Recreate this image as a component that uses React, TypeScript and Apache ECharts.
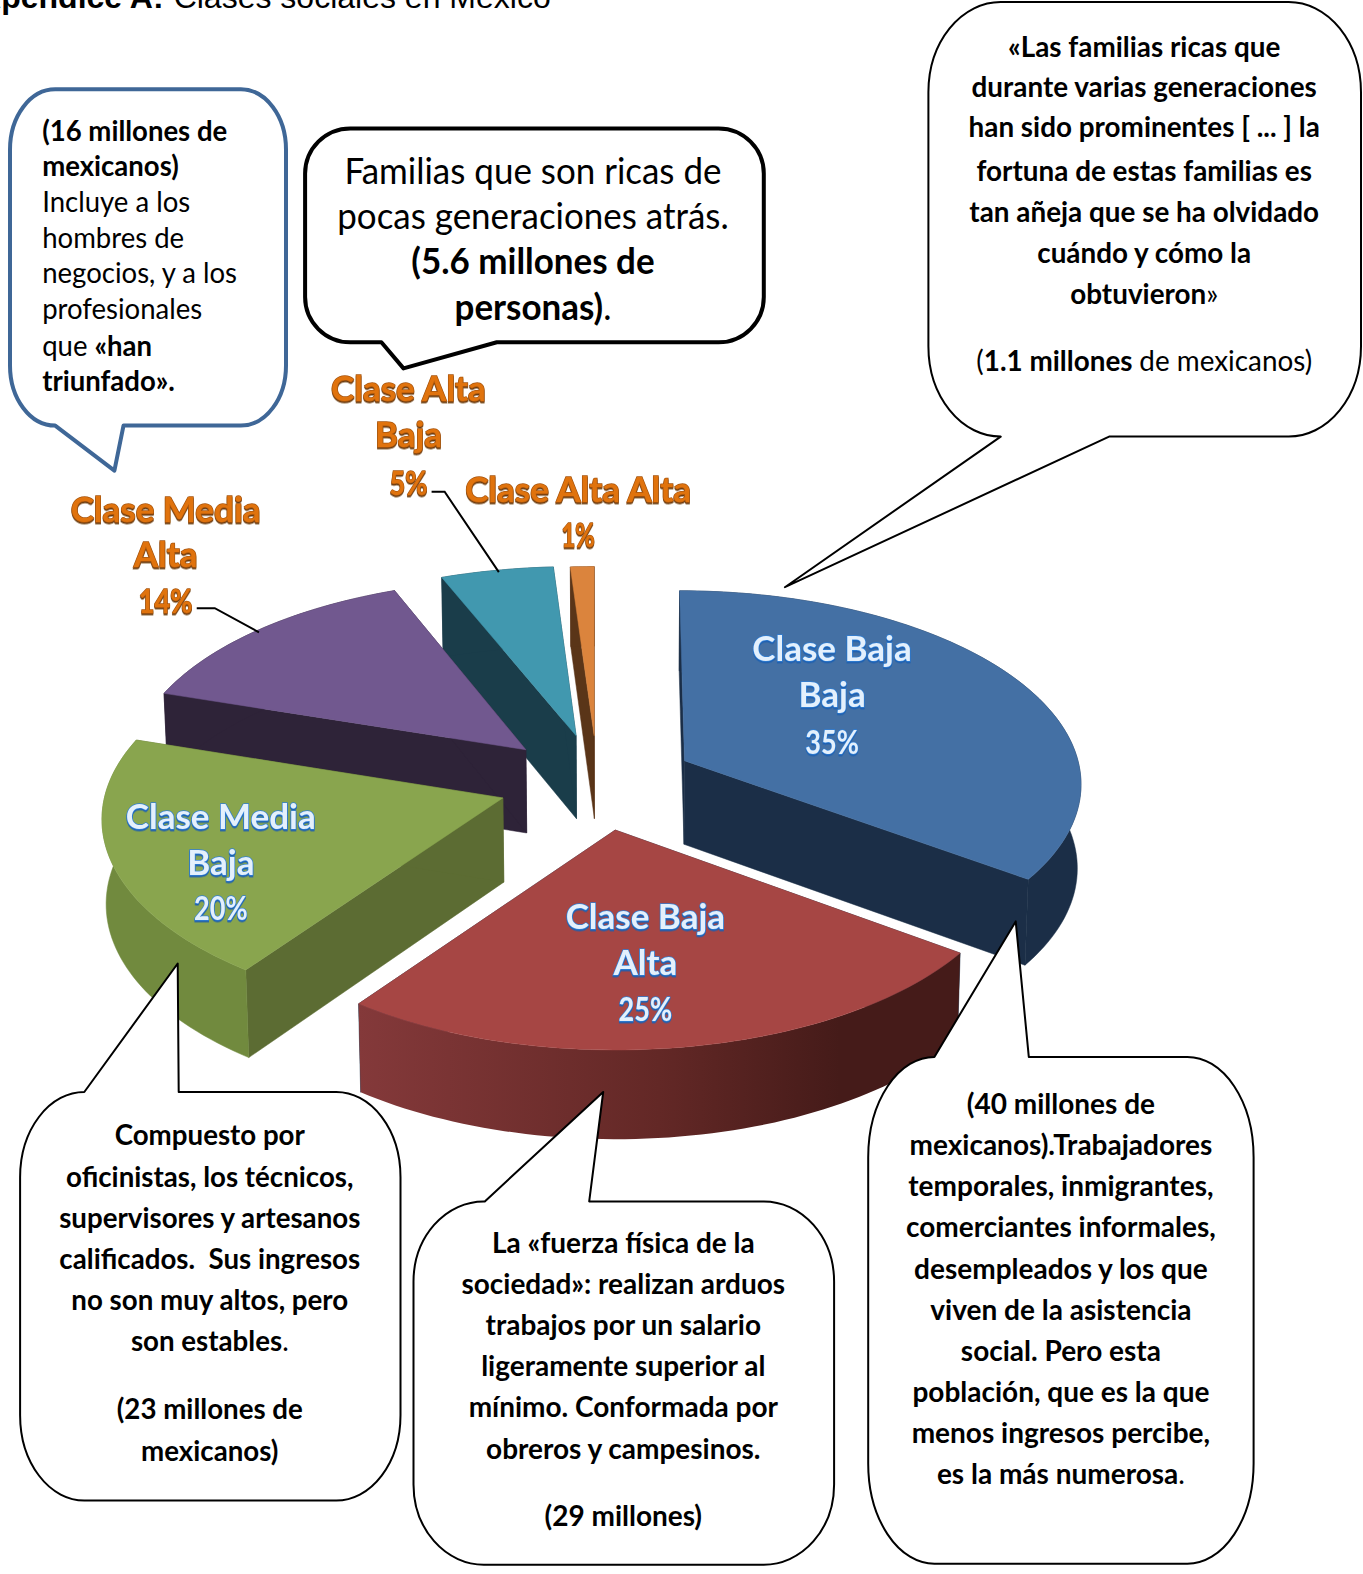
import React, { useEffect, useRef } from "react";
import * as echarts from "echarts";

const categories = ["Clase Baja Baja", "Clase Baja Alta", "Clase Media Baja", "Clase Media Alta", "Clase Alta Baja", "Clase Alta Alta"];
const seriesValues = [35, 25, 20, 14, 5, 1];
const topColors = ["#4470a4", "#a64644", "#89a54e", "#71588f", "#4198af", "#db843d"];
const wallColors = ["#1b2e47", "#1b2e47", "#5c6c33", "#2e2338", "#1a3d4a", "#5a3518"];
const rimColors = ["#1b2e47", "#6b2a29", "#718a3e", "#2e2338", "#1a3d4a", "#5a3518"];
const paintOrder = [4, 5, 3, 2, 1, 0];

const K = 1363 / 1358;
const apexes = [[682, 758], [613, 827], [501, 795], [524, 747], [574, 733], [592, 733]];
const radiusX = [392, 397, 397, 392, 401, 420];
const radiusY = [188, 195, 193, 188, 187, 187];
const lean = [0.6, 0.3, 0, 0, 0, 0];
const labelBlue = [[829, [646, 691, 739]], [643, [913, 958, 1005]], [220, [813, 859, 905]]];
const labelOrange = [[165, [507, 552, 599]], [407, [387, 432, 481]]];
const labelLinesPts = [[[196, 606], [214, 606], [258, 630]], [[430, 490], [443, 490], [497, 570]]];

const PK = 0.11, VX = 600;

const calloutA = ["(16 millones de", "mexicanos)", "Incluye a los", "hombres de", "negocios, y a los", "profesionales", "{n|que }{b|«han}", "triunfado»."];
const calloutB = ["Familias que son ricas de", "pocas generaciones atrás.", "(5.6 millones de", "{b|personas)}{n|.}"];
const calloutC = ["«Las familias ricas que", "durante varias generaciones", "han sido prominentes [ ... ] la", "fortuna de estas familias es", "tan añeja que se ha olvidado", "cuándo y cómo la", "{b|obtuvieron}{n|»}", "{n|(}{b|1.1 millones }{n|de mexicanos)}"];
const calloutD = ["Compuesto por", "oficinistas, los técnicos,", "supervisores y artesanos", "calificados.  Sus ingresos", "no son muy altos, pero", "{b|son estables}{n|.}", "(23 millones de", "mexicanos)"];
const calloutE = ["La «fuerza física de la", "sociedad»: realizan arduos", "trabajos por un salario", "ligeramente superior al", "mínimo. Conformada por", "obreros y campesinos.", "(29 millones)"];
const calloutF = ["(40 millones de", "mexicanos).Trabajadores", "temporales, inmigrantes,", "comerciantes informales,", "desempleados y los que", "viven de la asistencia", "social. Pero esta", "población, que es la que", "menos ingresos percibe,", "{b|es la más numerosa}{n|.}"];

type Box = { x: number; y: number; w: number; h: number; rx: number; ry: number; top?: number[][]; bottom?: number[][]; stroke: string; lw: number };
const boxes: Box[] = [
  { x: 10, y: 89, w: 275, h: 335, rx: 45, ry: 60, bottom: [[123, 424], [114, 469], [55, 424]], stroke: "#3f6797", lw: 4 },
  { x: 304, y: 128, w: 457, h: 213, rx: 45, ry: 45, bottom: [[495, 341], [402, 367], [380, 341]], stroke: "#000", lw: 4 },
  { x: 925, y: 2, w: 431, h: 433, rx: 72, ry: 90, bottom: [[1105, 435], [782, 585], [997, 435]], stroke: "#000", lw: 2 },
  { x: 20, y: 1088, w: 379, h: 407, rx: 64, ry: 85, top: [[84, 1088], [177, 960], [178, 1088]], stroke: "#000", lw: 2 },
  { x: 412, y: 1197, w: 419, h: 362, rx: 70, ry: 80, top: [[483, 1197], [601, 1088], [587, 1197]], stroke: "#000", lw: 2 },
  { x: 865, y: 1053, w: 384, h: 505, rx: 66, ry: 100, top: [[931, 1053], [1012, 918], [1025, 1053]], stroke: "#000", lw: 2 },
];

function calloutPath(b: Box) {
  const k = (n: number) => (n * K).toFixed(1);
  const { x, y, w, h, rx, ry } = b;
  const arc = (ex: number, ey: number) => `A ${k(rx)} ${k(ry)} 0 0 1 ${k(ex)} ${k(ey)} `;
  let d = `M ${k(x + rx)} ${k(y)} `;
  (b.top || []).forEach((p) => (d += `L ${k(p[0])} ${k(p[1])} `));
  d += `L ${k(x + w - rx)} ${k(y)} ` + arc(x + w, y + ry) + `L ${k(x + w)} ${k(y + h - ry)} ` + arc(x + w - rx, y + h);
  (b.bottom || []).forEach((p) => (d += `L ${k(p[0])} ${k(p[1])} `));
  d += `L ${k(x + rx)} ${k(y + h)} ` + arc(x, y + h - ry) + `L ${k(x)} ${k(y + ry)} ` + arc(x + rx, y) + "Z";
  return d;
}
boxes.forEach((b, i) => echarts.graphic.registerShape("callout" + i, echarts.graphic.extendPath(calloutPath(b), {}) as any));

const FONT = "Lato";

function line(text: string, x: number, y: number, size: number, weight: string, sx: number, align = "center") {
  const rich: any = {
    b: { fontFamily: FONT, fontSize: size, fontWeight: "bold", fill: "#000" },
    n: { fontFamily: FONT, fontSize: size, fontWeight: "normal", fill: "#000" },
  };
  return {
    type: "text", z: 20, x: x * K, y: (y - 1) * K, scaleX: sx,
    style: { text, rich, fontFamily: FONT, fontSize: size, fontWeight: weight, fill: "#000", align, verticalAlign: "middle" },
  };
}

function pieLabel(text: string, x: number, y: number, fill: string, stroke: string, shadow: string) {
  const pct = text.endsWith("%");
  return {
    type: "text", z: 15, x: x * K, y: (y - 1) * K, scaleX: text === "1%" ? 0.72 : pct ? 0.82 : 1.0,
    style: {
      text, fontFamily: FONT, fontSize: pct ? 33 : 35, fontWeight: "bold", fill, stroke, lineWidth: 1.4,
      align: "center", verticalAlign: "middle",
      textShadowColor: shadow, textShadowBlur: 1, textShadowOffsetY: 1.5,
    },
  };
}

function buildGraphic() {
  const els: any[] = [];
  boxes.forEach((b, i) => els.push({ type: "callout" + i, x: 0, y: 0, z: 12, style: { fill: "#fff", stroke: b.stroke, lineWidth: b.lw, lineJoin: "round" } }));
  const blk = (arr: string[], x: number, ys: number[], size: number, sx: number, weight = "bold", align = "center") =>
    arr.forEach((t, i) => els.push(line(t, x, ys[i], size, weight, sx, align)));

  const aY = [130, 165, 201, 237, 272, 308, 344, 379];
  calloutA.forEach((t, i) => els.push(line(t, 42, aY[i], 29, i < 2 || i === 7 ? "bold" : "normal", 0.95, "left")));
  const bY = [170, 215, 260, 305];
  calloutB.forEach((t, i) => els.push(line(t, 531, bY[i], 37, i < 2 ? "normal" : "bold", 0.945)));
  blk(calloutC, 1140, [47, 87, 127, 170, 211, 252, 293, 360], 28, 0.995);
  blk(calloutD, 209, [1131, 1172, 1213, 1254, 1295, 1336, 1404, 1445], 29, 0.955);
  blk(calloutE, 621, [1238, 1279, 1320, 1361, 1402, 1443, 1510], 29, 0.965);
  blk(calloutF, 1057, [1100, 1141, 1182, 1223, 1264, 1305, 1346, 1387, 1428, 1469], 28, 1.0);

  const blue = [["Clase Baja", "Baja", "35%"], ["Clase Baja", "Alta", "25%"], ["Clase Media", "Baja", "20%"]];
  labelBlue.forEach((l: any, i) => blue[i].forEach((t, j) => els.push(pieLabel(t, l[0], l[1][j], "#e4f0fc", "#2f7fd6", "#1f5fb0"))));
  const orange = [["Clase Media", "Alta", "14%"], ["Clase Alta", "Baja", "5%"]];
  labelOrange.forEach((l: any, i) => orange[i].forEach((t, j) => els.push(pieLabel(t, l[0], l[1][j], "#e0730f", "#a8560f", "#6b3a08"))));
  els.push(pieLabel("Clase Alta Alta", 576, 487, "#e0730f", "#a8560f", "#6b3a08"));
  els.push(pieLabel("1%", 576, 533, "#e0730f", "#a8560f", "#6b3a08"));
  labelLinesPts.forEach((pts) => els.push({ type: "polyline", z: 14, shape: { points: pts.map((p) => [p[0] * K, p[1] * K]) }, style: { stroke: "#000", lineWidth: 2, fill: "none" } }));

  els.push({ type: "text", z: 20, x: 163 * K, y: -3, style: { text: "Apéndice A:", fontFamily: "Liberation Sans", fontWeight: "bold", fontSize: 32, fill: "#000", align: "right", verticalAlign: "middle" } });
  els.push({ type: "text", z: 20, x: 173 * K, y: -3, style: { text: "Clases sociales en México", fontFamily: "Liberation Sans", fontSize: 32, fill: "#000", align: "left", verticalAlign: "middle" } });
  return els;
}

function project(i: number, theta: number) {
  const a = apexes[i];
  const u = Math.sin(theta), v = Math.cos(theta);
  const s = 1 / (1 + PK * v);
  return [a[0] + radiusX[i] * u * s + (a[0] - VX) * (s - 1) * lean[i], a[1] - radiusY[i] * v * s];
}
function down(p: number[]) {
  const H = 80 + (p[1] - 600) * 0.02;
  return [p[0] + (620 - p[0]) * 0.008, p[1] + H];
}
const scale = (pts: number[][]) => pts.map((p) => [p[0] * K, p[1] * K]);

function renderItem(params: any, api: any) {
  const i = params.dataIndex;
  const val = api.value(0);
  const total = seriesValues.reduce((s, v) => s + v, 0);
  const before = seriesValues.slice(0, i).reduce((s, v) => s + v, 0);
  const t0 = (before / total) * Math.PI * 2;
  const t1 = ((before + val) / total) * Math.PI * 2;
  const a = apexes[i];
  const arc: number[][] = [];
  const n = Math.max(6, Math.ceil((t1 - t0) * 40));
  for (let j = 0; j <= n; j++) arc.push(project(i, t0 + ((t1 - t0) * j) / n));
  const bottom = arc.map(down).reverse();
  const z = paintOrder[i] * 10;
  const poly = (pts: number[][], fill: any, dz: number) => ({
    type: "polygon", z2: z + dz, shape: { points: scale(pts) },
    style: { fill, stroke: typeof fill === "string" ? fill : "none", lineWidth: 0.5 },
  });
  const rim: any = i === 1
    ? new echarts.graphic.LinearGradient(0, 0, 1, 0, [{ offset: 0, color: "#84393a" }, { offset: 0.5, color: "#632826" }, { offset: 0.8, color: "#451b19" }, { offset: 1, color: "#451b19" }])
    : rimColors[i];
  return {
    type: "group",
    children: [
      poly([a, down(a), down(arc[0]), arc[0]], wallColors[i], 1),
      poly([a, down(a), down(arc[n]), arc[n]], wallColors[i], 2),
      poly([...arc, ...bottom], rim, 3),
      poly([a, ...arc], topColors[i], 4),
    ],
  };
}

export default function App() {
  const ref = useRef<HTMLDivElement>(null);
  useEffect(() => {
    const chart = echarts.init(ref.current!, undefined, { renderer: "svg" });
    chart.setOption({
      animation: false,
      backgroundColor: "#fff",
      series: [{
        type: "custom", coordinateSystem: "none", z: 1, silent: true,
        renderItem,
        data: seriesValues.map((v, i) => ({ name: categories[i], value: [v] })),
      }],
      graphic: { elements: buildGraphic() },
    });
    return () => chart.dispose();
  }, []);
  return <div ref={ref} style={{ position: "absolute", left: 0, top: 0, width: 1363, height: 1574 }} />;
}
